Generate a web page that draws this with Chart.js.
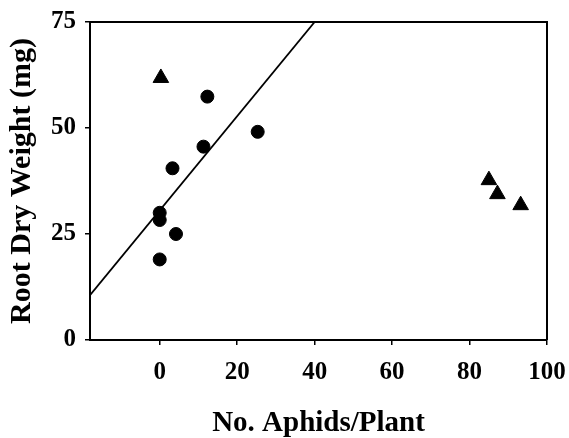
<!DOCTYPE html>
<html lang="en">

<head>
    <meta charset="utf-8">
    <title>Root Dry Weight vs Aphids</title>
    <script src="https://cdn.jsdelivr.net/npm/chart.js@4.4.1/dist/chart.umd.min.js"></script>
    <style>
        body {
            margin: 0;
            background: #fff;
        }
    </style>
</head>

<body>
    <canvas id="myChart" width="569" height="438"></canvas>

    <script>
        // plants without aphid colonies (circles)
        var circleX = [0, 0, 0, 4.2, 3.3, 11.3, 12.3, 25.3];
        var circleY = [30, 28.3, 19, 25, 40.5, 45.6, 57.4, 49.1];

        // plants with aphids (triangles)
        var triangleX = [0.3, 85, 87.2, 93.2];
        var triangleY = [61.8, 37.7, 34.4, 31.8];

        // regression line, end points
        var fitX = [-18, 40];
        var fitY = [10.6, 75];

        var xTicks = [0, 20, 40, 60, 80, 100];
        var yTicks = [0, 25, 50, 75];

        function toPoints(xs, ys) {
            return xs.map(function (x, i) { return { x: x, y: ys[i] }; });
        }

        var serif = "'Liberation Serif', 'Times New Roman', serif";

        // closes the box on top and right
        var frame = {
            id: 'frame',
            afterDraw: function (chart) {
                var a = chart.chartArea;
                var c = chart.ctx;
                c.save();
                c.strokeStyle = '#000';
                c.lineWidth = 2;
                c.beginPath();
                c.moveTo(a.left, a.top);
                c.lineTo(a.right, a.top);
                c.lineTo(a.right, a.bottom);
                c.stroke();
                c.restore();
            }
        };

        var ctx = document.getElementById('myChart').getContext('2d');
        var myChart = new Chart(ctx, {
            type: 'scatter',
            data: {
                datasets: [{
                    label: 'circles',
                    data: toPoints(circleX, circleY),
                    pointStyle: 'circle',
                    pointRadius: 6.5,
                    backgroundColor: '#000',
                    borderColor: '#000',
                    borderWidth: 1
                }, {
                    label: 'triangles',
                    data: toPoints(triangleX, triangleY),
                    pointStyle: 'triangle',
                    pointRadius: 9,
                    backgroundColor: '#000',
                    borderColor: '#000',
                    borderWidth: 1
                }, {
                    label: 'fit',
                    type: 'line',
                    data: toPoints(fitX, fitY),
                    showLine: true,
                    pointRadius: 0,
                    borderColor: '#000',
                    borderWidth: 1.8,
                    fill: false
                }]
            },
            options: {
                responsive: false,
                animation: false,
                layout: {
                    padding: { top: 22, right: 22, left: 0, bottom: 0 }
                },
                plugins: {
                    legend: { display: false },
                    tooltip: { enabled: false }
                },
                scales: {
                    x: {
                        type: 'linear',
                        min: -18,
                        max: 100,
                        afterBuildTicks: function (scale) {
                            scale.ticks = xTicks.map(function (v) { return { value: v }; });
                        },
                        afterFit: function (scale) {
                            scale.height = 98;
                            scale.paddingLeft = 0;
                            scale.paddingRight = 0;
                        },
                        grid: {
                            drawOnChartArea: false,
                            drawTicks: true,
                            tickLength: 5,
                            color: '#000',
                            lineWidth: 1.5
                        },
                        border: { display: true, color: '#000', width: 2 },
                        ticks: {
                            padding: 15,
                            color: '#000',
                            font: { family: serif, size: 25, weight: 'bold', lineHeight: 1 }
                        },
                        title: {
                            display: true,
                            text: 'No. Aphids/Plant',
                            color: '#000',
                            padding: { top: 0, bottom: 0 },
                            font: { family: serif, size: 29, weight: 'bold', lineHeight: 1 }
                        }
                    },
                    y: {
                        type: 'linear',
                        min: 0,
                        max: 75,
                        afterBuildTicks: function (scale) {
                            scale.ticks = yTicks.map(function (v) { return { value: v }; });
                        },
                        afterFit: function (scale) {
                            scale.width = 90;
                            scale.paddingTop = 0;
                            scale.paddingBottom = 0;
                        },
                        grid: {
                            drawOnChartArea: false,
                            drawTicks: true,
                            tickLength: 5,
                            color: '#000',
                            lineWidth: 1.5
                        },
                        border: { display: true, color: '#000', width: 2 },
                        ticks: {
                            padding: 9,
                            color: '#000',
                            font: { family: serif, size: 25, weight: 'bold', lineHeight: 1 }
                        },
                        title: {
                            display: true,
                            text: 'Root Dry Weight (mg)',
                            color: '#000',
                            padding: { top: 7, bottom: 0 },
                            font: { family: serif, size: 30, weight: 'bold', lineHeight: 1 }
                        }
                    }
                }
            },
            plugins: [frame]
        });
    </script>
</body>

</html>
